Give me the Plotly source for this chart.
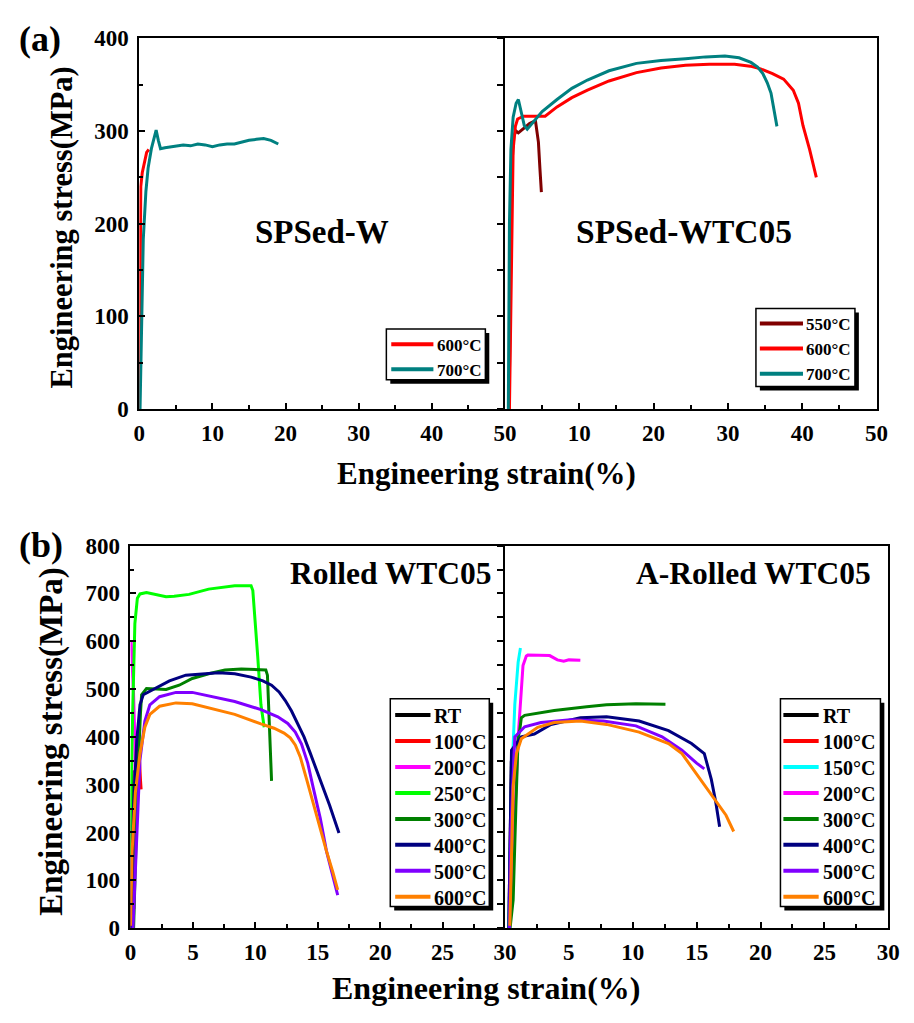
import plotly.graph_objects as go

# ---------------- (a) SPSed-W ----------------
w600_strain = [0.0, 0.05, 0.12, 0.2, 0.4, 0.7, 1.0, 1.3]
w600_stress = [0, 100, 200, 240, 255, 268, 277, 280]
w700_strain = [0.1, 0.3, 0.54, 0.9, 1.2, 1.65, 2.0, 2.3, 2.6, 2.9, 3.5, 5, 6, 7, 8, 9, 10, 11, 12, 13, 14, 15, 16, 17, 18, 19]
w700_stress = [0, 100, 183, 235, 260, 281, 292, 301, 290, 281, 282, 284, 285, 284, 286, 285, 283, 285, 286, 286, 288, 290, 291, 292, 290, 286]

# ---------------- (a) SPSed-WTC05 ----------------
c550_strain = [0.55, 0.7, 0.9, 1.2, 1.5, 1.8, 2.5, 3.3, 4.1, 4.3, 4.5, 4.7, 4.9]
c550_stress = [0, 150, 260, 295, 300, 298, 303, 308, 311, 300, 288, 260, 234]
c600_strain = [0.6, 0.75, 0.9, 1.1, 1.4, 1.7, 2.5, 4.0, 5.4, 7, 9, 11.1, 14, 17.7, 21, 24.3, 27.5, 30.9, 33, 34.4, 36, 37.5, 38.8, 39.5, 40.1, 41, 41.9]
c600_stress = [0, 100, 200, 280, 305, 313, 316, 316, 316, 326, 336, 344, 354, 363, 368, 371, 372, 372, 370, 367, 362, 356, 344, 330, 306, 280, 250]
c700_strain = [0.45, 0.5, 0.6, 0.8, 1.1, 1.5, 1.8, 2.2, 2.6, 3.0, 4.0, 5.0, 7.0, 9.0, 11.1, 14, 17.7, 21, 24.3, 27, 29.6, 31.5, 33.1, 34.0, 34.7, 35.3, 35.8, 36.2, 36.6]
c700_stress = [0, 100, 200, 280, 315, 330, 334, 320, 306, 302, 312, 321, 334, 346, 355, 365, 373, 376, 378, 380, 381, 379, 374, 369, 362, 352, 341, 325, 305]

# ---------------- (b) Rolled WTC05 ----------------
r_rt_strain = [0.0, 0.05, 0.1, 0.15]
r_rt_stress = [0, 120, 240, 330]
r100_strain = [0.1, 0.25, 0.4, 0.5, 0.58, 0.7, 0.8, 0.85]
r100_stress = [0, 150, 280, 360, 395, 360, 310, 290]
r200_strain = [0.28, 0.32, 0.35, 0.37, 0.35, 0.24, 0.1, 0.05]
r200_stress = [40, 100, 200, 300, 392, 494, 570, 600]
r250_strain = [0.02, 0.05, 0.2, 0.35, 0.55, 0.76, 1.28, 2.0, 2.85, 3.5, 4.69, 6.26, 7.5, 8.35, 9.66, 9.8, 10.19, 10.45, 10.71]
r250_stress = [150, 298, 480, 637, 690, 699, 702, 698, 693, 694, 698, 709, 714, 716, 716, 706, 569, 467, 420]
r300_strain = [0.25, 0.4, 0.6, 0.8, 0.89, 1.28, 2.85, 3.9, 4.95, 6.26, 7.57, 8.88, 10.71, 10.84, 10.97, 11.1, 11.2, 11.3]
r300_stress = [0, 150, 330, 450, 488, 501, 499, 508, 522, 532, 540, 542, 540, 540, 529, 433, 365, 308]
r400_strain = [0.05, 0.15, 0.24, 0.5, 0.76, 1.02, 1.81, 3.12, 4.43, 5.74, 7.05, 8.35, 9.66, 10.6, 11.3, 11.9, 12.4, 12.9, 13.4, 13.9, 14.4, 15.2, 15.95, 16.7]
r400_stress = [0, 150, 250, 392, 467, 488, 499, 517, 529, 532, 534, 532, 525, 517, 508, 494, 476, 454, 428, 400, 366, 311, 257, 199]
r500_strain = [0.2, 0.35, 0.5, 0.76, 1.15, 1.55, 2.33, 3.64, 4.95, 6.26, 8.35, 10.45, 11.8, 12.6, 13.2, 13.7, 14.2, 14.6, 15.2, 15.7, 16.2, 16.6]
r500_stress = [0, 100, 195, 352, 433, 467, 484, 493, 493, 486, 474, 457, 442, 428, 410, 385, 345, 298, 230, 161, 110, 69]
r600_strain = [0.0, 0.13, 0.39, 0.76, 1.15, 1.55, 2.33, 3.64, 4.95, 6.26, 8.35, 10.45, 11.5, 12.3, 12.8, 13.2, 13.6, 14.1, 14.6, 15.2, 15.7, 16.2, 16.6]
r600_stress = [5, 161, 284, 365, 420, 447, 464, 471, 469, 461, 447, 427, 418, 408, 398, 383, 358, 312, 263, 205, 161, 118, 80]

# ---------------- (b) A-Rolled WTC05 ----------------
a_rt_strain = [0.3, 0.4, 0.5]
a_rt_stress = [0, 200, 350]
a100_strain = [0.35, 0.45, 0.55]
a100_stress = [0, 200, 360]
a150_strain = [0.3, 0.38, 0.51, 0.77, 1.03, 1.21]
a150_stress = [0, 94, 297, 468, 556, 586]
a200_strain = [0.35, 0.51, 0.8, 1.03, 1.41, 1.67, 1.79, 2.5, 3.5, 4.1, 4.6, 5.0, 5.4, 5.9]
a200_stress = [0, 59, 250, 399, 549, 569, 571, 570, 570, 561, 558, 561, 561, 560]
a300_strain = [0.4, 0.64, 0.85, 1.03, 1.15, 1.28, 1.54, 3.85, 6.4, 7.95, 10.25, 12.56]
a300_stress = [0, 59, 250, 399, 413, 440, 445, 455, 463, 467, 469, 468]
a400_strain = [0.3, 0.38, 0.51, 1.28, 2.3, 3.6, 5.9, 7.95, 10.5, 12.8, 14.6, 15.6, 16.15, 16.5, 16.8]
a400_stress = [0, 163, 372, 400, 406, 426, 440, 442, 433, 413, 386, 365, 311, 263, 212]
a500_strain = [0.35, 0.45, 0.77, 1.54, 2.82, 5.13, 7.7, 10.25, 12.3, 13.85, 15.0, 15.6]
a500_stress = [0, 200, 400, 421, 430, 436, 433, 423, 400, 372, 345, 333]
a600_strain = [0.38, 0.51, 0.64, 0.9, 1.28, 2.56, 3.85, 5.9, 7.95, 10.5, 12.8, 13.85, 15.1, 16.4, 17.3, 17.9]
a600_stress = [5, 161, 297, 365, 396, 420, 430, 433, 426, 410, 386, 365, 318, 270, 236, 202]

FONT = "Liberation Serif"
W, H = 914, 1023

C_RT, C100, C150, C200 = "#000000", "#FF0000", "#00FFFF", "#FF00FF"
C250, C300, C400, C500, C600 = "#00FF00", "#008000", "#000080", "#8000FF", "#FF8000"
C550A, C600A, C700A = "#800000", "#FF0000", "#008080"

spsed_w = [
    (w600_strain, w600_stress, C600A, "600°C"),
    (w700_strain, w700_stress, C700A, "700°C"),
]
spsed_wtc = [
    (c550_strain, c550_stress, C550A, "550°C"),
    (c600_strain, c600_stress, C600A, "600°C"),
    (c700_strain, c700_stress, C700A, "700°C"),
]
rolled = [
    (r_rt_strain, r_rt_stress, C_RT, "RT"),
    (r100_strain, r100_stress, C100, "100°C"),
    (r200_strain, r200_stress, C200, "200°C"),
    (r250_strain, r250_stress, C250, "250°C"),
    (r300_strain, r300_stress, C300, "300°C"),
    (r400_strain, r400_stress, C400, "400°C"),
    (r500_strain, r500_stress, C500, "500°C"),
    (r600_strain, r600_stress, C600, "600°C"),
]
arolled = [
    (a_rt_strain, a_rt_stress, C_RT, "RT"),
    (a100_strain, a100_stress, C100, "100°C"),
    (a150_strain, a150_stress, C150, "150°C"),
    (a200_strain, a200_stress, C200, "200°C"),
    (a300_strain, a300_stress, C300, "300°C"),
    (a400_strain, a400_stress, C400, "400°C"),
    (a500_strain, a500_stress, C500, "500°C"),
    (a600_strain, a600_stress, C600, "600°C"),
]

fig = go.Figure()
for series, xa, ya in [(spsed_w, "x", "y"), (spsed_wtc, "x2", "y2"),
                       (rolled, "x3", "y3"), (arolled, "x4", "y4")]:
    for sx, sy, c, n in series:
        fig.add_trace(go.Scatter(x=sx, y=sy, mode="lines", name=n, showlegend=False,
                                 line=dict(color=c, width=3), xaxis=xa, yaxis=ya,
                                 hoverinfo="skip"))


def px_x(p):
    return p / W


def px_y(p):
    return 1 - p / H


tickfont = dict(family=FONT, size=23, color="black", weight="bold")


def xaxis(domain, anchor, rng, minor, vals, texts):
    return dict(domain=domain, anchor=anchor, range=rng, showline=True, linecolor="black",
                linewidth=2, mirror=True, ticks="inside", ticklen=6, tickwidth=2,
                tickcolor="black", tickmode="array", tickvals=vals, ticktext=texts,
                minor=dict(dtick=minor, ticks="inside", ticklen=4, tickwidth=2, tickcolor="black"),
                showgrid=False, zeroline=False, tickfont=tickfont, ticklabelstandoff=2)


def yaxis_left(domain, anchor, rng, dtick, minor):
    return dict(domain=domain, anchor=anchor, range=rng, showline=True, linecolor="black",
                linewidth=2, mirror=False, ticks="inside", ticklen=6, tickwidth=2,
                tickcolor="black", dtick=dtick,
                minor=dict(dtick=minor, ticks="inside", ticklen=4, tickwidth=2, tickcolor="black"),
                showgrid=False, zeroline=False, tickfont=tickfont, ticklabelstandoff=4)


def yaxis_right(domain, anchor, rng, dtick):
    return dict(domain=domain, anchor=anchor, range=rng, showline=True, linecolor="black",
                linewidth=2, mirror=True, ticks="outside", ticklen=6, tickwidth=2,
                tickcolor="black", dtick=dtick, showticklabels=False,
                showgrid=False, zeroline=False)


ya_dom = [px_y(407), px_y(27)]
yb_dom = [px_y(939), px_y(547)]

a_ticks = [0, 10, 20, 30, 40, 50]
b_ticks = [0, 5, 10, 15, 20, 25, 30]

fig.update_layout(
    width=W, height=H, margin=dict(l=0, r=0, t=0, b=0),
    paper_bgcolor="white", plot_bgcolor="white", showlegend=False,
    font=dict(family=FONT, color="black", weight="bold"),
    xaxis=xaxis([px_x(136), px_x(509)], "y", [0, 50], 5, a_ticks, [str(v) for v in a_ticks]),
    yaxis=yaxis_left(ya_dom, "x", [0, 400], 100, 50),
    xaxis2=xaxis([px_x(509), px_x(888)], "y2", [0, 50], 5, a_ticks, [""] + [str(v) for v in a_ticks[1:]]),
    yaxis2=yaxis_right(ya_dom, "x2", [0, 400], 50),
    xaxis3=xaxis([px_x(127), px_x(509)], "y3", [0, 30], 2.5, b_ticks, [str(v) for v in b_ticks]),
    yaxis3=yaxis_left(yb_dom, "x3", [0, 800], 100, 50),
    xaxis4=xaxis([px_x(509), px_x(900)], "y4", [0, 30], 2.5, b_ticks, [""] + [str(v) for v in b_ticks[1:]]),
    yaxis4=yaxis_right(yb_dom, "x4", [0, 800], 50),
)


def note(text, x, y, size, xanchor="center", yanchor="middle", angle=0):
    fig.add_annotation(text=text, x=px_x(x), y=px_y(y), xref="paper", yref="paper",
                       showarrow=False, xanchor=xanchor, yanchor=yanchor, textangle=angle,
                       font=dict(family=FONT, size=size, color="black", weight="bold"))


def rect(x0, y0, x1, y1, fill, border):
    fig.add_shape(type="rect", xref="paper", yref="paper", layer="above",
                  x0=px_x(x0), x1=px_x(x1), y0=px_y(y1), y1=px_y(y0), fillcolor=fill,
                  line=dict(color="black", width=border))


def legend_box(series, box, line_x, text_x, y_first, pitch, size):
    x0, y0, x1, y1 = box
    rect(x0 + 4, y0 + 4, x1 + 4, y1 + 4, "black", 0)   # drop shadow
    rect(x0, y0, x1, y1, "white", 1.5)
    for i, (_, _, color, name) in enumerate(series):
        yy = y_first + pitch * i
        fig.add_shape(type="line", xref="paper", yref="paper", layer="above",
                      x0=px_x(line_x[0]), x1=px_x(line_x[1]), y0=px_y(yy), y1=px_y(yy),
                      line=dict(color=color, width=4))
        note(name, text_x, yy + 1, size, xanchor="left")


legend_box(spsed_w, (388, 325, 489, 377), (393, 436), 438, 340.7, 25.5, 17)
legend_box(spsed_wtc, (765, 304, 866, 384), (769, 813), 814, 319.3, 25.7, 17)
legend_box(rolled, (392, 704, 493, 917), (397, 433), 435, 720.7, 26.6, 20)
legend_box(arolled, (790, 704, 892, 917), (793, 829), 831, 720.7, 26.6, 20)

note("(a)", 11, 28, 36, xanchor="left")
note("(b)", 11, 546, 36, xanchor="left")
note("SPSed-W", 322, 225, 33)
note("SPSed-WTC05", 692, 225, 33.5)
note("Rolled WTC05", 498, 576, 31.5, xanchor="right")
note("A-Rolled WTC05", 884, 576, 31.5, xanchor="right")
note("Engineering stress(MPa)", 57, 221, 30.5, angle=-90)
note("Engineering stress(MPa)", 47, 748, 33, angle=-90)
note("Engineering strain(%)", 490, 473, 31)
note("Engineering strain(%)", 490, 1000, 32)

fig.write_html("out.html")
